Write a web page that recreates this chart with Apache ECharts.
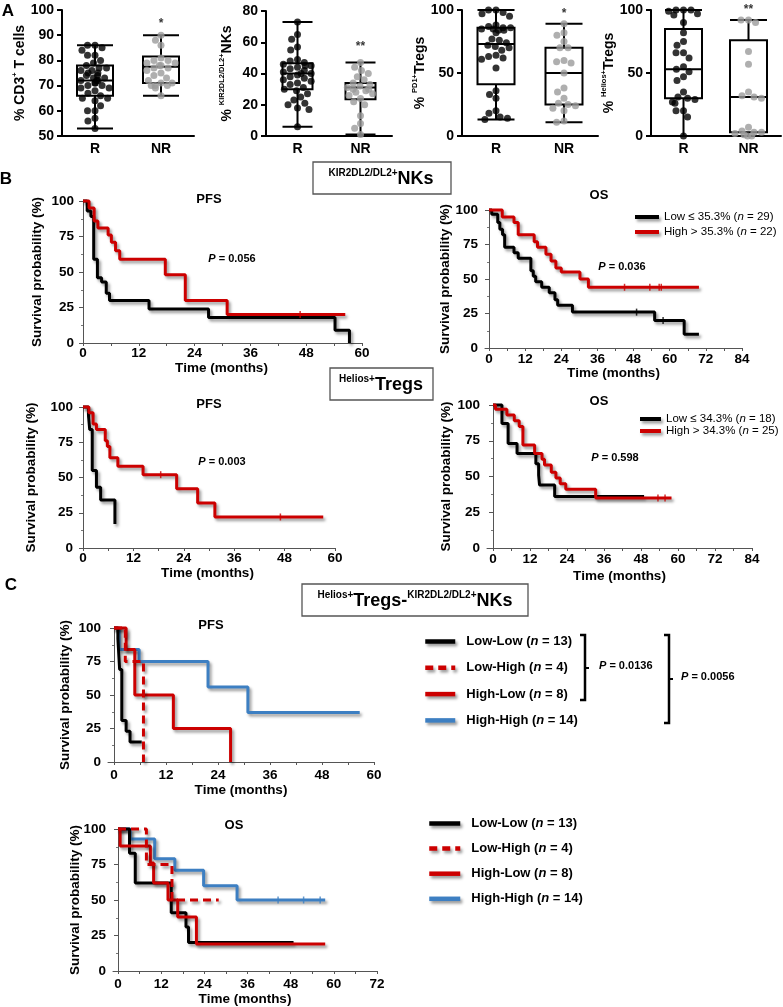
<!DOCTYPE html>
<html><head><meta charset="utf-8">
<script src="https://cdn.jsdelivr.net/npm/echarts@6/dist/echarts.min.js"></script>
<style>html,body{margin:0;padding:0;background:#fff}#c{width:783px;height:1007px}</style>
</head><body><div id="c"></div>
<script>
// ================= DATA =================
// Panel A: groups, box stats [min, Q1, median, Q3, max], individual points
const groups = ['R', 'NR'];
const cd3Box = [[53, 66, 72, 78, 86], [66, 71, 77.5, 81.5, 90]];
const cd3R = [86,86,85,84,82,82,80,79,78,77,77,76,76,75,75,74,74,73,73,72,72,72,71,71,70,70,69,69,68,67,66,65,65,64,62,60,60,57,56,53];
const cd3NR = [90,88,86,81,80,80,79,79,78,78,77,77,76,75,74,73,72,71,71,70,70,70,69,66];
const kirBox = [[6, 30, 40, 46.5, 73], [1, 23.5, 31, 34, 47]];
const kirR = [73,65,62,57,55,49,48,47,46,45,45,44,43,42,41,40,40,39,38,37,36,35,34,33,31,30,29,27,25,23,21,20,18,17,6];
const kirNR = [47,44,42,40,38,36,34,33,32,31,30,30,29,28,27,26,24,22,20,13,8,5,1];
const pd1Box = [[13, 41, 73, 86, 100], [11, 25, 50, 70, 89]];
const pd1R = [100,100,98,97,95,88,87,86,86,85,85,84,84,82,77,76,74,72,71,70,68,64,63,62,61,54,36,33,30,20,18,15,14,13];
const pd1NR = [89,82,80,75,70,70,60,59,58,50,38,35,30,26,25,24,22,20,12,11];
const helBox = [[0, 30, 53, 85, 100], [0, 3, 31, 76, 92]];
const helR = [100,100,100,99,97,96,90,82,75,72,66,66,62,55,53,51,47,44,35,31,30,29,27,26,20,20,15,0];
const helNR = [92,92,90,67,57,35,32,31,30,7,4,3,3,2,1,0,0];
const sigMarks = ['*', '**', '*', '**'];
const sigValues = [94.5, 57, 97, 100];

// Panel B/C: Kaplan-Meier step data [time (months), survival (%)]
const kirPfsLow  = [[0,100],[0.9,93],[1.7,89],[2.3,59],[3.1,46],[4,43],[5,35],[5.7,30],[14.2,24],[27,18],[54.2,9],[57.3,0]];
const kirPfsHigh = [[0,100],[1.3,95],[2.4,86],[3.2,81],[5.4,76],[6.1,71],[7,65],[7.9,59],[17.7,48],[22,30],[31,20],[56.4,20]];
const kirOsLow   = [[0,100],[0.9,97],[2.9,91],[3.6,86],[4.5,82],[5.2,73],[8.3,69],[9.7,65],[13.9,56],[14.7,52],[15.5,48],[17.5,44],[20,40],[21.9,35],[22.8,31],[27.7,26],[55,20],[64.8,10],[69.7,10]];
const kirOsHigh  = [[0,100],[4.4,95],[8.3,91],[9.7,82],[15,77],[16.1,73],[18.9,68],[20.6,63],[22.2,58],[24,55],[30.2,50],[33,44],[69.7,44]];
const helPfsLow  = [[0,100],[1.3,94],[1.6,84],[2.2,55],[3.2,43],[4.2,34],[7.6,17]];
const helPfsHigh = [[0,100],[1.4,96],[2.4,88],[3.2,84],[5.3,76],[5.8,72],[6.4,64],[8.3,58],[14.3,52],[22.3,42],[27.3,32],[31.4,22],[57.2,22]];
const helOsLow   = [[0,100],[2.9,87],[4.9,73],[7.8,66],[13.9,59],[14.8,51],[15.1,44],[20,36],[49,36]];
const helOsHigh  = [[0,100],[0.8,97],[4.5,93],[6.9,89],[8.5,85],[9.7,72],[13.5,66],[15.9,62],[16.7,58],[18.9,53],[20.4,49],[21.8,45],[23.6,41],[33.3,35],[57.9,35]];
const cPfsLL = [[0,100],[0.9,92],[1.3,69],[1.8,31],[2.8,23],[3.7,15],[6.4,15]];
const cPfsLH = [[0,100],[2.6,75],[6.8,0]];
const cPfsHL = [[0,100],[2.8,84],[4.8,50],[13.7,25],[26.9,0]];
const cPfsHH = [[0,100],[1.2,84],[5.8,75],[21.7,56],[30.9,37],[56.7,37]];
const cOsLL = [[0,100],[3.2,83],[4.8,62],[14.8,41],[18.9,31],[19.6,20],[48.8,20]];
const cOsLH = [[0,100],[7.9,75],[15,50],[28,50]];
const cOsHL = [[0,100],[0.6,88],[9,76],[9.9,62],[13.9,50],[16.6,38],[21.8,19],[57.6,19]];
const cOsHH = [[0,100],[3.4,93],[10.2,79],[15.8,71],[23.8,60],[33.1,50],[57.6,50]];
// censoring times (months)
const kirPfsHighCens = [46.7];
const kirOsHighCens = [45, 53.4, 56.5, 57.2];
const kirOsLowCens = [49, 57.8];
const helPfsHighCens = [18.5, 47];
const helOsHighCens = [53.5, 55.8];
const cOsHHCens = [44.5, 51.6, 56.2];

const kmTicks = [0, 12, 24, 36, 48, 60, 72, 84];

// ================= STYLE / LAYOUT =================
const F = '"Liberation Sans", Arial, Helvetica, sans-serif';
const BLACK = '#000000', RED = '#cc0000', BLUE = '#3d7fc2', GREY = '#9b9b9b';
const shadow = {shadowColor: 'rgba(0,0,0,0.4)', shadowBlur: 3, shadowOffsetX: 2, shadowOffsetY: 2.5};

const aGrids = [
  {left: 62, top: 10, width: 132, height: 126},
  {left: 266, top: 11, width: 126, height: 125},
  {left: 462, top: 10, width: 136, height: 126},
  {left: 651, top: 10, width: 130, height: 126}
];
const aAxes = [
  {min: 50, max: 100, interval: 10, nameGap: 27, name: '{p|% CD3}{s|+}{p| T cells}', bw: 36},
  {min: 0, max: 80, interval: 20, nameGap: 30, name: '{p|% }{s|KIR2DL2/DL2+}{p|NKs}', bw: 30},
  {min: 0, max: 100, interval: 50, nameGap: 28, name: '{p|% }{s|PD1+}{p|Tregs}', bw: 37},
  {min: 0, max: 100, interval: 50, nameGap: 32, name: '{p|% }{s|Helios+}{p|Tregs}', bw: 37}
];
const aData = [
  [cd3Box, cd3R, cd3NR], [kirBox, kirR, kirNR], [pd1Box, pd1R, pd1NR], [helBox, helR, helNR]
];
// KM grids: left = y axis, x0 = month 0 position, right = last tick
const kmGrids = [
  {left: 81, x0: 83, right: 362, top: 201, bottom: 343, max: 60, yGap: 37, lblM: 3, xGap: 18},
  {left: 485, x0: 489, right: 742, top: 210, bottom: 348, max: 84, yGap: 33, lblM: 4, xGap: 18},
  {left: 80, x0: 83, right: 335, top: 407, bottom: 548, max: 60, yGap: 42, lblM: 3, xGap: 18},
  {left: 487, x0: 493, right: 752, top: 405, bottom: 548, max: 84, yGap: 34, lblM: 4, xGap: 21},
  {left: 108, x0: 114, right: 374, top: 628, bottom: 762, max: 60, yGap: 36, lblM: 6, xGap: 21},
  {left: 113, x0: 118, right: 377, top: 829, bottom: 971, max: 72, yGap: 31, lblM: 6, xGap: 21}
];

const kirLow = 'Low ≤ 35.3% (n = 29)', kirHigh = 'High > 35.3% (n = 22)';
const helLow = 'Low ≤ 34.3% (n = 18)', helHigh = 'High > 34.3% (n = 25)';
const cNames = ['Low-Low (n = 13)', 'Low-High (n = 4)', 'High-Low (n = 8)', 'High-High (n = 14)'];

const kmCurves = [
  {g: 0, name: kirLow, data: kirPfsLow, color: BLACK},
  {g: 0, name: kirHigh, data: kirPfsHigh, color: RED, cens: kirPfsHighCens},
  {g: 1, name: kirLow, data: kirOsLow, color: BLACK, cens: kirOsLowCens},
  {g: 1, name: kirHigh, data: kirOsHigh, color: RED, cens: kirOsHighCens},
  {g: 2, name: helLow, data: helPfsLow, color: BLACK},
  {g: 2, name: helHigh, data: helPfsHigh, color: RED, cens: helPfsHighCens},
  {g: 3, name: helLow, data: helOsLow, color: BLACK},
  {g: 3, name: helHigh, data: helOsHigh, color: RED, cens: helOsHighCens},
  {g: 4, name: cNames[3], data: cPfsHH, color: BLUE},
  {g: 4, name: cNames[0], data: cPfsLL, color: BLACK},
  {g: 4, name: cNames[2], data: cPfsHL, color: RED},
  {g: 4, name: cNames[1], data: cPfsLH, color: RED, dash: true},
  {g: 5, name: cNames[3], data: cOsHH, color: BLUE, cens: cOsHHCens},
  {g: 5, name: cNames[0], data: cOsLL, color: BLACK},
  {g: 5, name: cNames[2], data: cOsHL, color: RED},
  {g: 5, name: cNames[1], data: cOsLH, color: RED, dash: true}
];

function survAt(curve, t) { let s = curve[0][1]; for (const p of curve) if (p[0] <= t) s = p[1]; return s; }

// ================= OPTION =================
const grid = [], xAxis = [], yAxis = [], series = [];
const boldTxt = (size) => ({fontFamily: F, fontWeight: 'bold', fontSize: size, color: '#000'});

aGrids.forEach((g, i) => {
  grid.push(Object.assign({outerBoundsMode: 'none'}, g));
  const ax = aAxes[i];
  xAxis.push({
    type: 'category', gridIndex: i, data: groups,
    jitter: 30, jitterOverlap: false, jitterMargin: 0.5,
    axisLine: {lineStyle: {color: '#000', width: 2}}, axisTick: {show: false},
    axisLabel: Object.assign(boldTxt(14), {margin: 6}), splitLine: {show: false}
  });
  yAxis.push({
    type: 'value', gridIndex: i, min: ax.min, max: ax.max, interval: ax.interval,
    axisLine: {show: true, lineStyle: {color: '#000', width: 2}},
    axisTick: {show: true, length: 5, lineStyle: {width: 2, color: '#000'}},
    axisLabel: Object.assign(boldTxt(14), {margin: 8}), splitLine: {show: false},
    name: ax.name, nameLocation: 'middle', nameGap: ax.nameGap, nameRotate: 90,
    nameTextStyle: {rich: {
      p: {fontFamily: F, fontWeight: 'bold', fontSize: 14, color: '#000', lineHeight: 18},
      s: {fontFamily: F, fontWeight: 'bold', fontSize: 7.5, color: '#000', lineHeight: 9, verticalAlign: 'top'}
    }}
  });
  const [box, r, nr] = aData[i];
  series.push({type: 'boxplot', xAxisIndex: i, yAxisIndex: i, data: box, boxWidth: [ax.bw, ax.bw],
    itemStyle: {color: 'rgba(0,0,0,0)', borderColor: '#000', borderWidth: 2}, z: 2, silent: true});
  series.push({type: 'scatter', xAxisIndex: i, yAxisIndex: i, data: r.map(v => ['R', v]),
    symbolSize: 7, itemStyle: {color: '#000'}, z: 3, clip: false, silent: true});
  series.push({type: 'scatter', xAxisIndex: i, yAxisIndex: i, data: nr.map(v => ['NR', v]),
    symbolSize: 7, itemStyle: {color: GREY}, z: 3, clip: false, silent: true});
  series.push({type: 'scatter', xAxisIndex: i, yAxisIndex: i, data: [['NR', sigValues[i]]],
    symbolSize: 1, itemStyle: {color: 'rgba(0,0,0,0)'}, clip: false, silent: true,
    label: {show: true, position: 'inside', formatter: sigMarks[i], fontFamily: F, fontWeight: 'bold', fontSize: 12, color: '#000'}});
});

kmGrids.forEach((g, k) => {
  const idx = 4 + k;
  const pxPer = (g.right - g.x0) / g.max;
  const minX = -(g.x0 - g.left) / pxPer;
  grid.push({outerBoundsMode: 'none', left: g.left, top: g.top, width: g.right - g.left, height: g.bottom - g.top});
  const lbl = kmTicks.filter(t => t <= g.max);
  const tks = [];
  for (let t = 0; t <= g.max; t += 6) tks.push(t);
  xAxis.push({
    type: 'value', gridIndex: idx, min: minX, max: g.max,
    axisLine: {onZero: false, lineStyle: {color: '#555', width: 1}},
    axisTick: {show: true, customValues: tks, length: 3, lineStyle: {color: '#555'}},
    axisLabel: Object.assign(boldTxt(13.5), {customValues: lbl, margin: g.lblM}),
    splitLine: {show: false},
    name: 'Time (months)', nameLocation: 'middle', nameGap: g.xGap, nameMoveOverlap: false,
    nameTextStyle: boldTxt(13.5)
  });
  yAxis.push({
    type: 'value', gridIndex: idx, min: 0, max: 100, interval: 25,
    axisLine: {show: true, lineStyle: {color: '#555', width: 1}},
    axisTick: {show: true, length: 4, lineStyle: {color: '#555'}},
    minorTick: {show: true, splitNumber: 2, length: 2, lineStyle: {color: '#777'}},
    axisLabel: Object.assign(boldTxt(13.5), {margin: 7}),
    splitLine: {show: false},
    name: 'Survival probability (%)', nameLocation: 'middle', nameGap: g.yGap, nameMoveOverlap: false,
    nameTextStyle: boldTxt(13.5)
  });
});

kmCurves.forEach((c) => {
  const ai = 4 + c.g;
  series.push({
    type: 'line', name: c.name, step: 'end', data: c.data, xAxisIndex: ai, yAxisIndex: ai,
    symbol: 'none', color: c.color, silent: true, clip: false,
    lineStyle: Object.assign({color: c.color, width: 3, type: c.dash ? [8, 5] : 'solid'}, shadow), z: 3
  });
  if (c.cens) {
    series.push({
      type: 'scatter', name: c.name + ' censored', xAxisIndex: ai, yAxisIndex: ai, silent: true,
      data: c.cens.map(t => [t, survAt(c.data, t)]), symbol: 'rect', symbolSize: [1.5, 7],
      itemStyle: {color: c.color}, z: 4
    });
  }
});

// legends
function richName(name, p) {
  const m = name.match(/^(.*\()n( = .*)$/);
  return (p === 'c' ? '{g| }' : '') + `{${p}|${m[1]}}{${p}i|n}{${p}|${m[2]}}`;
}
const bRich = {
  b: {fontFamily: F, fontSize: 11.5, color: '#000'},
  bi: {fontFamily: F, fontSize: 11.5, fontStyle: 'italic', color: '#000'}
};
const cRich = {
  g: {width: 6},
  c: {fontFamily: F, fontSize: 13, fontWeight: 'bold', color: '#000'},
  ci: {fontFamily: F, fontSize: 13, fontWeight: 'bold', fontStyle: 'italic', color: '#000'}
};
const legShadow = {shadowColor: 'rgba(0,0,0,0.4)', shadowBlur: 3, shadowOffsetX: 2, shadowOffsetY: 2.5};
const legend = [
  {data: [kirLow, kirHigh], left: 633, top: 211, padding: 0, orient: 'vertical', itemWidth: 24, itemHeight: 12, itemGap: 3,
   selectedMode: false, itemStyle: {opacity: 0}, lineStyle: Object.assign({width: 4}, legShadow),
   formatter: n => richName(n, 'b'), textStyle: {rich: bRich}},
  {data: [helLow, helHigh], left: 638, top: 413, padding: 0, orient: 'vertical', itemWidth: 21, itemHeight: 12, itemGap: 0,
   selectedMode: false, itemStyle: {opacity: 0}, lineStyle: Object.assign({width: 4}, legShadow),
   formatter: n => richName(n, 'b'), textStyle: {rich: bRich}},
  {data: cNames, left: 423, top: 635, padding: 0, orient: 'vertical', itemWidth: 30, itemHeight: 14, itemGap: 13.3,
   selectedMode: false, itemStyle: {opacity: 0}, lineStyle: Object.assign({width: 4.5}, legShadow),
   formatter: n => richName(n, 'c'), textStyle: {rich: cRich}},
  {data: cNames, left: 427, top: 817, padding: 0, orient: 'vertical', itemWidth: 31, itemHeight: 14, itemGap: 12.1,
   selectedMode: false, itemStyle: {opacity: 0}, lineStyle: Object.assign({width: 4.5}, legShadow),
   formatter: n => richName(n, 'c'), textStyle: {rich: cRich}}
];

// annotations
function txt(x, y, text, rich, align) {
  return {type: 'text', x: x, y: y, silent: true, style: {text: text, rich: rich, align: align || 'center', verticalAlign: 'middle', textAlign: align || 'center', textVerticalAlign: 'middle'}};
}
const pRich = {
  i: {fontFamily: F, fontSize: 11, fontWeight: 'bold', fontStyle: 'italic', fill: '#000', color: '#000'},
  n: {fontFamily: F, fontSize: 11, fontWeight: 'bold', fill: '#000', color: '#000'}
};
const tRich = {t: {fontFamily: F, fontSize: 13, fontWeight: 'bold', color: '#000'}};
const letterRich = {L: {fontFamily: F, fontSize: 17, fontWeight: 'bold', color: '#000'}};
const boxRich = {
  s: {fontFamily: F, fontSize: 10, fontWeight: 'bold', color: '#000', lineHeight: 12, verticalAlign: 'top'},
  b: {fontFamily: F, fontSize: 18, fontWeight: 'bold', color: '#000', lineHeight: 22}
};
function bracket(x, y1, y2, ym) {
  return [
    {type: 'polyline', silent: true, shape: {points: [[x - 5, y1], [x, y1], [x, y2], [x - 5, y2]]}, style: {stroke: '#000', lineWidth: 2.5, fill: null}},
    {type: 'line', silent: true, shape: {x1: x, y1: ym, x2: x + 4, y2: ym}, style: {stroke: '#000', lineWidth: 2}}
  ];
}
const graphic = [
  txt(8, 11, '{L|A}', letterRich), txt(6, 179, '{L|B}', letterRich), txt(11, 585, '{L|C}', letterRich),
  {type: 'rect', silent: true, shape: {x: 313, y: 162, width: 138, height: 32}, style: {fill: null, stroke: '#555', lineWidth: 1.3}},
  txt(381, 179, '{s|KIR2DL2/DL2+}{b|NKs}', boxRich),
  {type: 'rect', silent: true, shape: {x: 330, y: 368, width: 103, height: 32}, style: {fill: null, stroke: '#555', lineWidth: 1.3}},
  txt(381, 385, '{s|Helios+}{b|Tregs}', boxRich),
  {type: 'rect', silent: true, shape: {x: 302, y: 584, width: 226, height: 32}, style: {fill: null, stroke: '#555', lineWidth: 1.3}},
  txt(415, 601, '{s|Helios+}{b|Tregs-}{s|KIR2DL2/DL2+}{b|NKs}', boxRich),
  txt(209, 199, '{t|PFS}', tRich), txt(599, 195, '{t|OS}', tRich),
  txt(209, 404, '{t|PFS}', tRich), txt(599, 401, '{t|OS}', tRich),
  txt(211, 625, '{t|PFS}', tRich), txt(234, 825, '{t|OS}', tRich),
  txt(232, 259, '{i|P}{n| = 0.056}', pRich), txt(622, 267, '{i|P}{n| = 0.036}', pRich),
  txt(222, 462, '{i|P}{n| = 0.003}', pRich), txt(615, 458, '{i|P}{n| = 0.598}', pRich),
  txt(599, 666, '{i|P}{n| = 0.0136}', pRich, 'left'), txt(681, 677, '{i|P}{n| = 0.0056}', pRich, 'left'),
  ...bracket(585, 635, 700, 668), ...bracket(669, 635, 723, 679)
];

const chart = echarts.init(document.getElementById('c'));
chart.setOption({
  animation: false, backgroundColor: '#fff',
  grid, xAxis, yAxis, series, legend, graphic
});
</script>
</body></html>
